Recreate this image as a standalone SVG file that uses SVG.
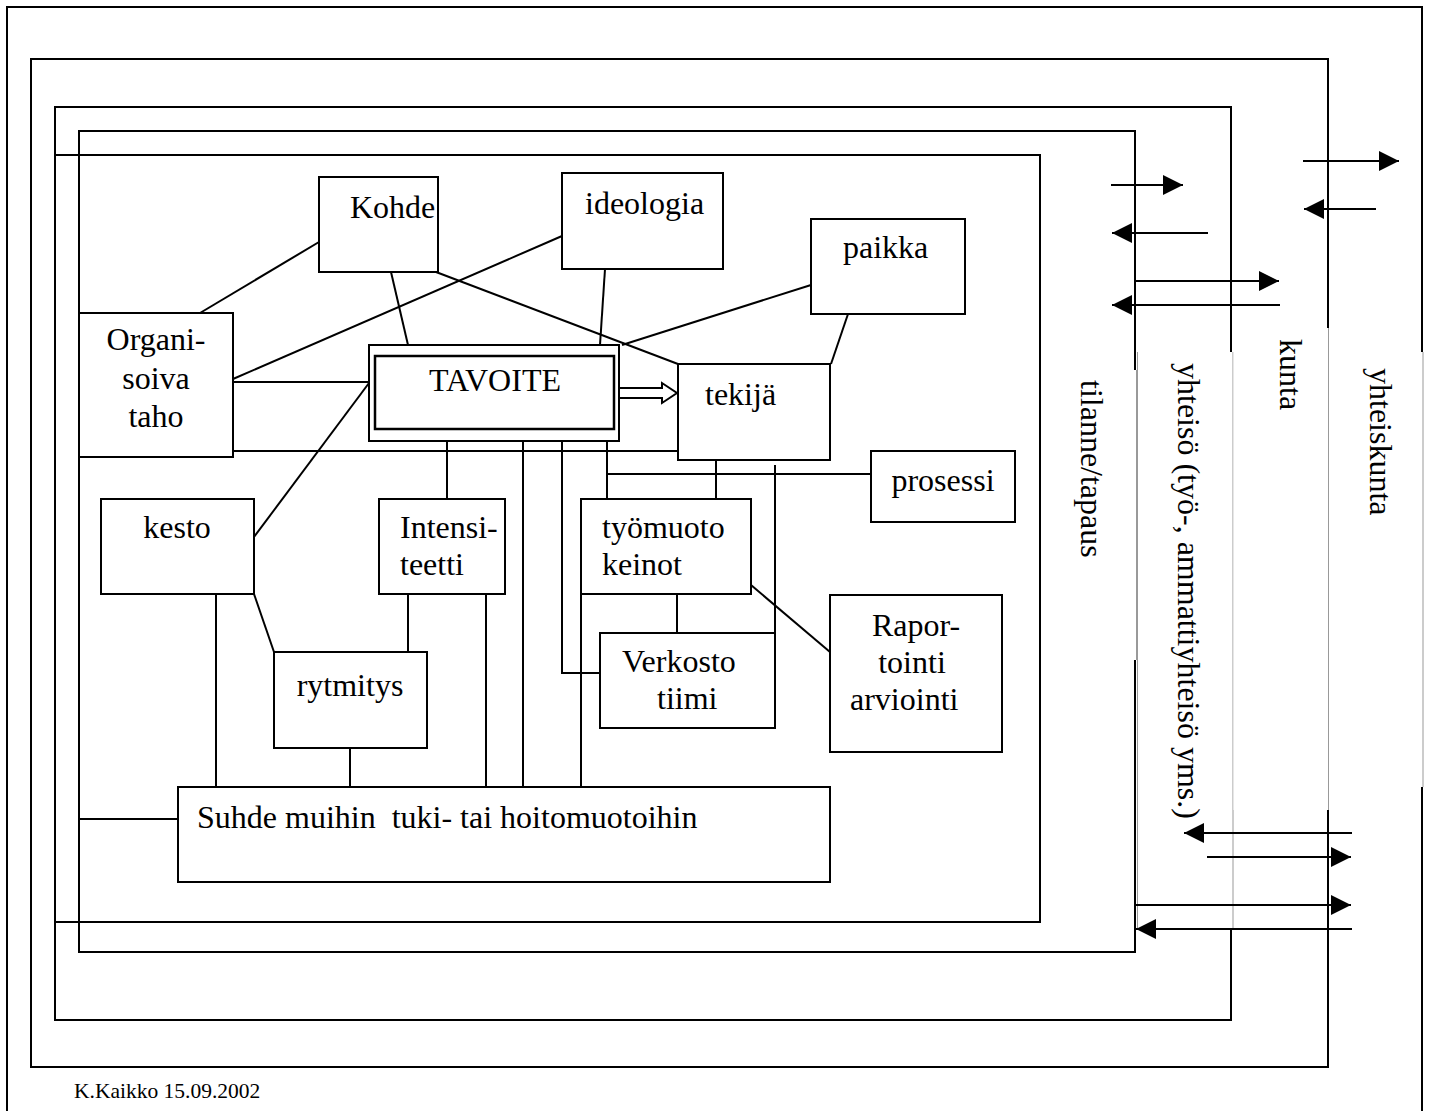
<svg xmlns="http://www.w3.org/2000/svg" width="1429" height="1111" viewBox="0 0 1429 1111">
<style>
.fr{fill:none;stroke:#000;stroke-width:2}
.nb{fill:#fff;stroke:#000;stroke-width:2}
.lb{fill:#fff;stroke:none}
.ge{fill:none;stroke:#999;stroke-width:1}
.c{fill:none;stroke:#000;stroke-width:2}
.t{font-family:"Liberation Serif","Times New Roman",serif;font-size:32px;fill:#000}
.m{text-anchor:middle}
.ft{font-family:"Liberation Serif","Times New Roman",serif;font-size:21.5px;fill:#000}
</style>
<defs>
<marker id="ah" markerUnits="userSpaceOnUse" markerWidth="20" markerHeight="20" refX="20" refY="10" orient="auto">
<path d="M0,0 L20,10 L0,20 z" fill="#000"/>
</marker>
</defs>
<rect width="1429" height="1111" fill="#fff"/>
<g id="frames">
<path class="fr" d="M7,1111 V7 H1422 V1111"/>
<rect class="fr" x="31" y="59" width="1297" height="1008"/>
<rect class="fr" x="55" y="107" width="1176" height="913"/>
<rect class="fr" x="79" y="131" width="1056" height="821"/>
<rect class="fr" x="55" y="155" width="985" height="767"/>
</g>
<g id="level-labels">
<g id="lbl-tilanne"><rect class="lb" x="1041.5" y="370" width="95" height="290"/><path class="ge" d="M1136.5,370 V660"/><text class="t" transform="translate(1081,380) rotate(90)">tilanne/tapaus</text></g>
<g id="lbl-yhteiso"><rect class="lb" x="1137" y="352" width="96" height="577"/><path class="ge" d="M1137.5,352 V929 M1233,352 V929"/><text class="t" transform="translate(1178,363) rotate(90)">yhteisö (työ-, ammattiyhteisö yms.)</text></g>
<g id="lbl-kunta"><rect class="lb" x="1233.5" y="328" width="96" height="482"/><path class="ge" d="M1328.5,328 V810"/><text class="t" transform="translate(1280,339) rotate(90)">kunta</text></g>
<g id="lbl-yhteiskunta"><rect class="lb" x="1329.5" y="352" width="94" height="435"/><path class="ge" d="M1423,352 V787"/><text class="t" transform="translate(1370,368) rotate(90)">yhteiskunta</text></g>
</g>
<g id="connectors">
<path class="c" d="M200,313 L319,242"/>
<path class="c" d="M233,379 L562,236"/>
<path class="c" d="M233,382 H369"/>
<path class="c" d="M223,451 H680"/>
<path class="c" d="M391,272 L408,345"/>
<path class="c" d="M436,272 L678,364"/>
<path class="c" d="M605,269 L600,345"/>
<path class="c" d="M811,285 L622,345"/>
<path class="c" d="M848,314 L831,364"/>
<path class="c" d="M254,537 L369,383"/>
<path class="c" d="M254,594 L274,652"/>
<path class="c" d="M216,594 V787"/>
<path class="c" d="M408,594 V652"/>
<path class="c" d="M486,594 V787"/>
<path class="c" d="M350,748 V787"/>
<path class="c" d="M447,441 V499"/>
<path class="c" d="M523,441 V787"/>
<path class="c" d="M562,441 V673 H600"/>
<path class="c" d="M607,427 V499"/>
<path class="c" d="M607,474 H871"/>
<path class="c" d="M716,460 V499"/>
<path class="c" d="M775,465 V633"/>
<path class="c" d="M677,594 V633"/>
<path class="c" d="M581,594 V787"/>
<path class="c" d="M751,585 L830,652"/>
<path class="c" d="M79,819 H178"/>
<path d="M619,388 H662 V383 L677,393 L662,403 V398 H619" fill="#fff" stroke="#000" stroke-width="2"/>
<path class="c" d="M1111,185 H1183" marker-end="url(#ah)"/>
<path class="c" d="M1208,233 H1112" marker-end="url(#ah)"/>
<path class="c" d="M1135,281 H1279" marker-end="url(#ah)"/>
<path class="c" d="M1280,305 H1112" marker-end="url(#ah)"/>
<path class="c" d="M1303,161 H1399" marker-end="url(#ah)"/>
<path class="c" d="M1376,209 H1304" marker-end="url(#ah)"/>
<path class="c" d="M1352,833 H1184" marker-end="url(#ah)"/>
<path class="c" d="M1207,857 H1351" marker-end="url(#ah)"/>
<path class="c" d="M1135,905 H1351" marker-end="url(#ah)"/>
<path class="c" d="M1352,929 H1136" marker-end="url(#ah)"/>
</g>
<g id="kohde"><rect class="nb" x="319" y="177" width="119" height="95"/><text class="t" x="350" y="218">Kohde</text></g>
<g id="ideologia"><rect class="nb" x="562" y="173" width="161" height="96"/><text class="t" x="585" y="214">ideologia</text></g>
<g id="paikka"><rect class="nb" x="811" y="219" width="154" height="95"/><text class="t" x="843" y="258">paikka</text></g>
<g id="organisoiva"><rect class="nb" x="79" y="313" width="154" height="144"/><text class="t m" x="156" y="350">Organi-</text><text class="t m" x="156" y="389">soiva</text><text class="t m" x="156" y="427">taho</text></g>
<g id="tavoite"><rect class="nb" x="369" y="345" width="250" height="96"/><rect x="375" y="356" width="239" height="73" fill="none" stroke="#000" stroke-width="2.5"/><text class="t m" x="495" y="391">TAVOITE</text></g>
<g id="tekija"><rect class="nb" x="678" y="364" width="152" height="96"/><text class="t" x="705" y="405">tekijä</text></g>
<g id="prosessi"><rect class="nb" x="871" y="451" width="144" height="71"/><text class="t m" x="943" y="491">prosessi</text></g>
<g id="kesto"><rect class="nb" x="101" y="499" width="153" height="95"/><text class="t m" x="177" y="538">kesto</text></g>
<g id="intensiteetti"><rect class="nb" x="379" y="499" width="126" height="95"/><text class="t" x="400" y="538">Intensi-</text><text class="t" x="400" y="575">teetti</text></g>
<g id="tyomuoto"><rect class="nb" x="581" y="499" width="170" height="95"/><text class="t" x="602" y="538">työmuoto</text><text class="t" x="602" y="575">keinot</text></g>
<g id="raportointi"><rect class="nb" x="830" y="595" width="172" height="157"/><text class="t m" x="916" y="636">Rapor-</text><text class="t m" x="912" y="673">tointi</text><text class="t" x="850" y="710">arviointi</text></g>
<g id="verkosto"><rect class="nb" x="600" y="633" width="175" height="95"/><text class="t" x="622" y="672">Verkosto</text><text class="t" x="657" y="709">tiimi</text></g>
<g id="rytmitys"><rect class="nb" x="274" y="652" width="153" height="96"/><text class="t m" x="350" y="696">rytmitys</text></g>
<g id="suhde"><rect class="nb" x="178" y="787" width="652" height="95"/><text class="t" x="197" y="828" xml:space="preserve">Suhde muihin  tuki- tai hoitomuotoihin</text></g>
<text class="ft" x="74" y="1098">K.Kaikko 15.09.2002</text>
</svg>
